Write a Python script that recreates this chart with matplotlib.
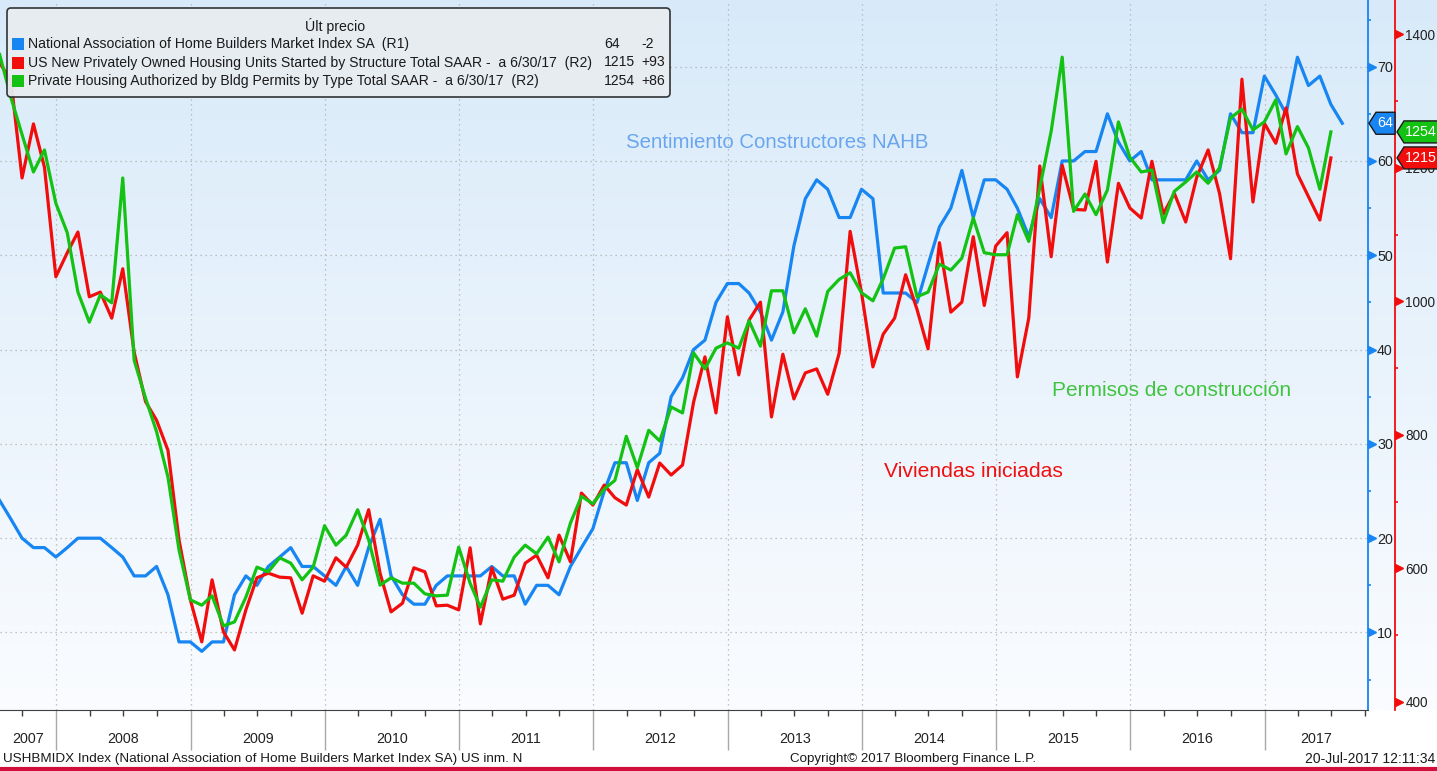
import numpy as np
import pandas as pd
import matplotlib
matplotlib.use('Agg')
import matplotlib.pyplot as plt
import matplotlib.dates as mdates
import matplotlib.transforms as mtransforms
from matplotlib.patches import Polygon, FancyBboxPatch, Rectangle
from matplotlib.lines import Line2D
from matplotlib.ticker import NullFormatter

W, H = 1437, 771
plt.rcParams['font.family'] = ['Liberation Sans', 'DejaVu Sans']

BLUE = '#1785f2'
RED = '#f20d0d'
GREEN = '#14c214'
INK = '#1a1a1a'

# NAHB index, monthly Jul-2007 .. Jul-2017 (R1)
nahb = [24, 22, 20, 19, 19, 18,
        19, 20, 20, 20, 19, 18, 16, 16, 17, 14, 9, 9,
        8, 9, 9, 14, 16, 15, 17, 18, 19, 17, 17, 16,
        15, 17, 15, 19, 22, 16, 14, 13, 13, 15, 16, 16,
        16, 16, 17, 16, 16, 13, 15, 15, 14, 17, 19, 21,
        25, 28, 28, 24, 28, 29, 35, 37, 40, 41, 45, 47,
        47, 46, 44, 41, 44, 51, 56, 58, 57, 54, 54, 57,
        56, 46, 46, 46, 45, 49, 53, 55, 59, 54, 58, 58,
        57, 55, 52, 56, 54, 60, 60, 61, 61, 65, 62, 60,
        61, 58, 58, 58, 58, 60, 58, 59, 65, 63, 63, 69,
        67, 65, 71, 68, 69, 66, 64]

# housing starts, SAAR thousands, Jul-2007 .. Jun-2017 (R2)
starts = [1358, 1330, 1185, 1266, 1201, 1037,
          1073, 1104, 1007, 1014, 975, 1049, 924, 850, 822, 777, 643, 553,
          490, 583, 505, 478, 538, 586, 593, 587, 586, 533, 589, 581,
          616, 602, 635, 688, 593, 535, 548, 601, 595, 544, 545, 538,
          631, 517, 601, 554, 560, 608, 620, 586, 650, 610, 713, 695,
          725, 706, 695, 748, 707, 758, 740, 755, 849, 917, 833, 977,
          890, 972, 999, 827, 921, 854, 893, 899, 861, 922, 1105, 1013,
          902, 951, 975, 1040, 988, 929, 1088, 984, 999, 1097, 994, 1083,
          1103, 887, 975, 1203, 1067, 1204, 1138, 1137, 1210, 1059, 1177, 1140,
          1125, 1210, 1131, 1162, 1119, 1186, 1227, 1162, 1064, 1333, 1149, 1267,
          1237, 1290, 1191, 1157, 1122, 1215]

# building permits, SAAR thousands, Jul-2007 .. Jun-2017 (R2)
permits = [1370, 1305, 1250, 1194, 1227, 1147,
           1103, 1014, 969, 1010, 998, 1185, 912, 855, 805, 737, 628, 553,
           545, 559, 514, 520, 557, 602, 595, 616, 608, 583, 602, 664,
           635, 650, 688, 643, 575, 586, 578, 578, 562, 559, 560, 632,
           578, 542, 583, 581, 617, 635, 622, 647, 610, 668, 708, 697,
           719, 732, 798, 751, 807, 791, 842, 833, 923, 899, 930, 938,
           930, 971, 933, 1016, 1016, 953, 989, 948, 1015, 1033, 1043, 1013,
           1001, 1034, 1080, 1082, 1007, 1014, 1056, 1047, 1065, 1125, 1073, 1070,
           1070, 1130, 1090, 1170, 1255, 1366, 1135, 1161, 1130, 1167, 1269, 1216,
           1194, 1197, 1118, 1165, 1179, 1194, 1177, 1200, 1275, 1288, 1257, 1269,
           1302, 1221, 1262, 1230, 1168, 1254]

legend_names = ['National Association of Home Builders Market Index SA  (R1)',
                'US New Privately Owned Housing Units Started by Structure Total SAAR -  a 6/30/17  (R2)',
                'Private Housing Authorized by Bldg Permits by Type Total SAAR -  a 6/30/17  (R2)']
blue_ticks = [10, 20, 30, 40, 50, 60, 70]
red_ticks = [400, 600, 800, 1000, 1200, 1400]
years = list(range(2007, 2018))

nahb_dates = pd.date_range('2007-07-31', periods=len(nahb), freq='ME')
hs_dates = pd.date_range('2007-07-31', periods=len(starts), freq='ME')
x0, x1 = pd.Timestamp('2007-08-01'), pd.Timestamp('2017-10-09')


def box(l, t, r, b):
    return [l / W, 1 - b / H, (r - l) / W, (b - t) / H]


fig = plt.figure(figsize=(W / 100, H / 100), dpi=100)
fig.patch.set_facecolor('white')
px = mtransforms.IdentityTransform()

# background gradient
bg = fig.add_axes(box(0, 0, W, 710))
bg.axis('off')
g = np.linspace(0, 1, 256)[:, None, None]
top = np.array([216, 234, 249]) / 255
bot = np.array([250, 252, 255]) / 255
bg.imshow(top * (1 - g) + bot * g, aspect='auto', extent=[0, 1, 0, 1])
bg.set_zorder(0)

ax = fig.add_axes(box(0, 0, 1368, 710))
ax.set_facecolor('none')
ax.set_zorder(1)
ax2 = ax.twinx()
ax2.set_zorder(2)

ax.plot(nahb_dates, nahb, color=BLUE, lw=2.3)
ax2.plot(hs_dates, starts, color=RED, lw=2.3)
ax2.plot(hs_dates, permits, color=GREEN, lw=2.3)

ax.set_xlim(x0, x1)
ax.set_ylim(1.78, 77.07)
ax2.set_ylim(388, 1451.6)

# grid
ax.grid(axis='both', which='major', ls=(0, (1, 3)), color='#b0b0b0', lw=0.9)

# x axis
ax.xaxis.set_major_locator(mdates.YearLocator())
ax.xaxis.set_minor_locator(mdates.MonthLocator(bymonth=[1, 4, 7, 10]))
ax.xaxis.set_major_formatter(NullFormatter())
ax.tick_params(axis='x', which='major', length=29, color='#a8a8a8', width=1)
ax.tick_params(axis='x', which='minor', length=4.5, color='#404040', width=1)
xt = mtransforms.blended_transform_factory(ax.transData, ax.transAxes)
for yr in years:
    a = max(pd.Timestamp(f'{yr}-01-01'), x0)
    b = min(pd.Timestamp(f'{yr + 1}-01-01'), x1)
    mid = a + (b - a) / 2
    ax.text(mid, -29 / 710, str(yr), transform=xt, ha='center', va='center',
            fontsize=10.3, color='#222222')

# left series axis (blue)
ax.yaxis.tick_right()
ax.set_yticks(blue_ticks)
ax.set_yticks(list(range(5, 80, 10)), minor=True)
ax.tick_params(axis='y', which='major', length=0, pad=6.5, labelsize=10.3, labelcolor='#222222')
ax.tick_params(axis='y', which='minor', length=2.5, width=1.2, color=BLUE)
for s in ['left', 'top']:
    ax.spines[s].set_visible(False)
ax.spines['right'].set_color(BLUE)
ax.spines['right'].set_linewidth(1.3)
ax.spines['bottom'].set_color('#404040')
tb = mtransforms.blended_transform_factory(ax.transAxes, ax.transData)
ax.plot([1 + 4 / 1368] * len(blue_ticks), blue_ticks, ls='none', marker='>', ms=5.5,
        color=BLUE, transform=tb, clip_on=False)

# right series axis (red)
rpos = 1395 / 1368
for s in ['left', 'top', 'bottom']:
    ax2.spines[s].set_visible(False)
ax2.spines['right'].set_position(('axes', rpos))
ax2.spines['right'].set_color(RED)
ax2.spines['right'].set_linewidth(1.3)
ax2.set_yticks(red_ticks)
ax2.set_yticks(list(range(500, 1450, 200)), minor=True)
ax2.tick_params(axis='y', which='major', length=0, pad=7.5, labelsize=9.8, labelcolor='#222222')
ax2.tick_params(axis='y', which='minor', length=2.5, width=1.2, color=RED)
tr = mtransforms.blended_transform_factory(ax2.transAxes, ax2.transData)
ax2.plot([rpos + 4 / 1368] * len(red_ticks), red_ticks, ls='none', marker='>', ms=5.5,
         color=RED, transform=tr, clip_on=False)


# last value tags
def tag(yd, xl, xr, color, label):
    h = 11
    pts = [(xl, yd), (xl + 7, yd + h), (xr, yd + h), (xr, yd - h), (xl + 7, yd - h)]
    fig.add_artist(Polygon(pts, closed=True, transform=px, facecolor=color,
                           edgecolor='#1a1a1a', lw=1, zorder=10))
    fig.text((xl + 7 + min(xr, W)) / 2, yd, label, transform=px, ha='center', va='center',
             color='white', fontsize=10.3, zorder=11)


yb = ax.transData.transform((0, nahb[-1]))[1]
yg = ax2.transData.transform((0, permits[-1]))[1]
yr_ = ax2.transData.transform((0, starts[-1]))[1]
tag(yb, 1369, 1395, BLUE, str(nahb[-1]))
tag(yg, 1397, 1440, GREEN, str(permits[-1]))
tag(yr_, 1397, 1440, RED, str(starts[-1]))

# legend block
fig.add_artist(FancyBboxPatch((7, H - 97), 663, 89, boxstyle='round,pad=0,rounding_size=4',
                              transform=px, facecolor='#e8edf1', edgecolor='#2a2a2a',
                              lw=1.2, alpha=0.95, zorder=8))
fig.text(335, H - 26, 'Últ precio', transform=px, ha='center', va='center',
         fontsize=10.2, color=INK, zorder=9)
rows = [44, 62.5, 81]
lasts = [nahb[-1], starts[-1], permits[-1]]
chgs = [nahb[-1] - nahb[-2], starts[-1] - starts[-2], permits[-1] - permits[-2]]
for yrow, c, name, v, d in zip(rows, [BLUE, RED, GREEN], legend_names, lasts, chgs):
    fig.add_artist(Rectangle((12, H - yrow - 6), 12, 12, transform=px, facecolor=c,
                             edgecolor='none', zorder=9))
    fig.text(28, H - yrow, name, transform=px, va='center', fontsize=10.1,
             color=INK, zorder=9)
    fig.text(604, H - yrow, str(v), transform=px, va='center', fontsize=10.1,
             color=INK, zorder=9)
    fig.text(641, H - yrow, f'{d:+d}', transform=px, va='center', fontsize=10.1,
             color=INK, zorder=9)

# chart annotations
fig.text(626 / W, 1 - 142 / H, 'Sentimiento Constructores NAHB', color='#6aa6f0',
         fontsize=14.7, va='center')
fig.text(1052 / W, 1 - 391 / H, 'Permisos de construcción', color='#40c440',
         fontsize=15, va='center')
fig.text(884 / W, 1 - 471 / H, 'Viviendas iniciadas', color='#f01010',
         fontsize=15.2, va='center')

# footer
fig.text(3 / W, 1 - 759 / H, 'USHBMIDX Index (National Association of Home Builders Market Index SA) US inm. N',
         fontsize=9.7, color=INK, va='center')
fig.text(913 / W, 1 - 759 / H, 'Copyright© 2017 Bloomberg Finance L.P.', fontsize=9.6,
         color=INK, va='center', ha='center')
fig.text(1435 / W, 1 - 759 / H, '20-Jul-2017 12:11:34', fontsize=10, color=INK,
         va='center', ha='right')
fig.add_artist(Line2D([0, 1], [1 - 769 / H] * 2, color='#d0103a', lw=3))

fig.savefig('out.png', dpi=100)
